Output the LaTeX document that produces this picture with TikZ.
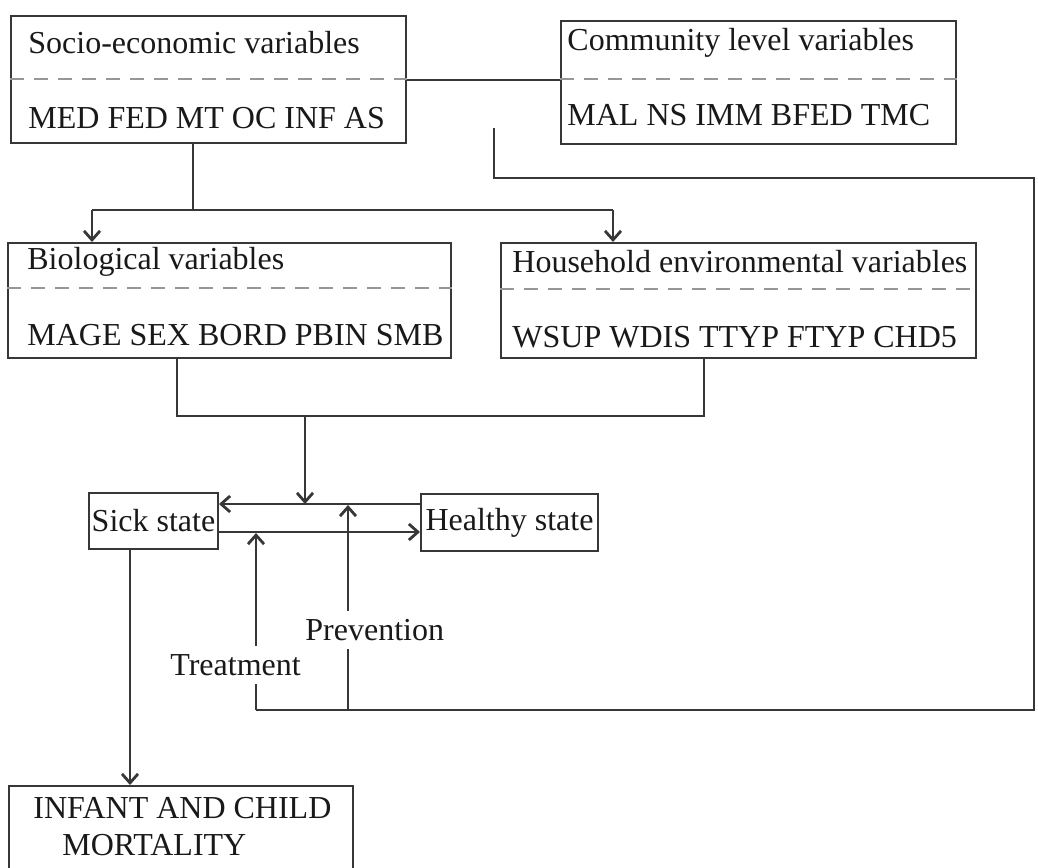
\documentclass[tikz,border=0pt]{standalone}
\usepackage{fontspec}
\setmainfont{Liberation Serif}
\usetikzlibrary{arrows.meta,positioning,calc}
\definecolor{ink}{RGB}{25,25,25}
\definecolor{rule}{RGB}{55,55,55}
\definecolor{sepgray}{RGB}{150,150,150}

\tikzset{
  varbox/.style={draw=rule,line width=1pt,inner sep=0pt,anchor=north west},
  statebox/.style={varbox,font=\fontsize{16}{19}\selectfont,text=ink},
  lbl/.style={font=\fontsize{16}{19}\selectfont,text=ink,inner sep=0pt,anchor=west},
  cutlbl/.style={lbl,fill=white,inner ysep=4pt},
  sepline/.style={draw=sepgray,line width=0.9pt,dash pattern=on 7pt off 5pt},
  link/.style={draw=rule,line width=1pt},
  flow/.style={link,-{Straight Barb[length=4.5pt,width=8pt,line width=1.4pt]}}
}

\begin{document}
\begin{tikzpicture}[x=0.5pt,y=-0.5pt]
    \fill[white] (0,0) rectangle (1038,867);
    \clip (0,0) rectangle (1038,867);
    \foreach \nm/\x/\y/\w/\h/\tx/\ty/\dy/\cy/\ttl/\vars in {
      socio/10/15/395/127/28/43/79/118/{Socio-economic variables}/{MED FED MT OC INF AS},
      comm/560/20/395/123/567/43/79/115/{Community level variables}/{MAL NS IMM BFED TMC},
      bio/7/242/443/115/27/262/288/335/{Biological variables}/{MAGE SEX BORD PBIN SMB},
      house/500/242/475/115/512/262/289/337/{Household environmental variables}/{WSUP WDIS TTYP FTYP CHD5}}{
      \node[varbox,minimum width=\w*0.5pt,minimum height=\h*0.5pt] (\nm) at (\x,\y) {};
      \node[lbl] (\nm-ttl) at (\tx,\ty) {\ttl};
      \node[lbl] (\nm-var) at (\tx,\cy) {\vars};
      \draw[sepline] (\nm.west |- 0,\dy) -- (\nm.east |- 0,\dy);
    }
    \node[statebox,minimum width=64.5pt,minimum height=28pt] (sick) at (88,492) {Sick state};
    \node[statebox,minimum width=88.5pt,minimum height=28.5pt] (healthy) at (420,493) {Healthy state};
    \node[varbox,minimum width=172pt,minimum height=60pt] (mort) at (8,785) {};
    \node[lbl] (mort-a) at (33,808) {INFANT AND CHILD};
    \node[lbl] (mort-b) at (62,845) {MORTALITY};

    \draw[link] (socio.east |- 0,80) -- (comm.west |- 0,80);
    \coordinate (env top) at (494,128);
    \coordinate (env right) at (1034,178);
    \coordinate (treat foot) at (256,710);
    \coordinate (prev foot) at (348,710);
    \draw[link] (env top) |- (env right) |- (treat foot);

    \coordinate (fork) at (193,210);
    \coordinate (fork l) at (92,210);
    \coordinate (fork r) at (613,210);
    \draw[link] (socio.south -| fork) -- (fork);
    \draw[link] (fork l) -- (fork r);
    \draw[flow] (fork l) -- (fork l |- bio.north);
    \draw[flow] (fork r) -- (fork r |- house.north);

    \coordinate (join) at (305,416);
    \draw[link] (bio.south -| 177,0) |- (join) -| (house.south -| 704,0);
    \draw[flow] (join) -- (join |- 0,504);

    \draw[flow] (healthy.west |- 0,504) -- (sick.east |- 0,504);
    \draw[flow] (sick.east |- 0,532) -- (healthy.west |- 0,532);
    \draw[flow] (treat foot) -- (treat foot |- 0,533);
    \draw[flow] (prev foot) -- (prev foot |- 0,505);
    \draw[flow] (sick.south -| 130,0) -- (mort.north -| 130,0);

    \node[cutlbl] (prev) at (305,630) {Prevention};
    \node[cutlbl] (treat) at (170,665) {Treatment};
\end{tikzpicture}
\end{document}
